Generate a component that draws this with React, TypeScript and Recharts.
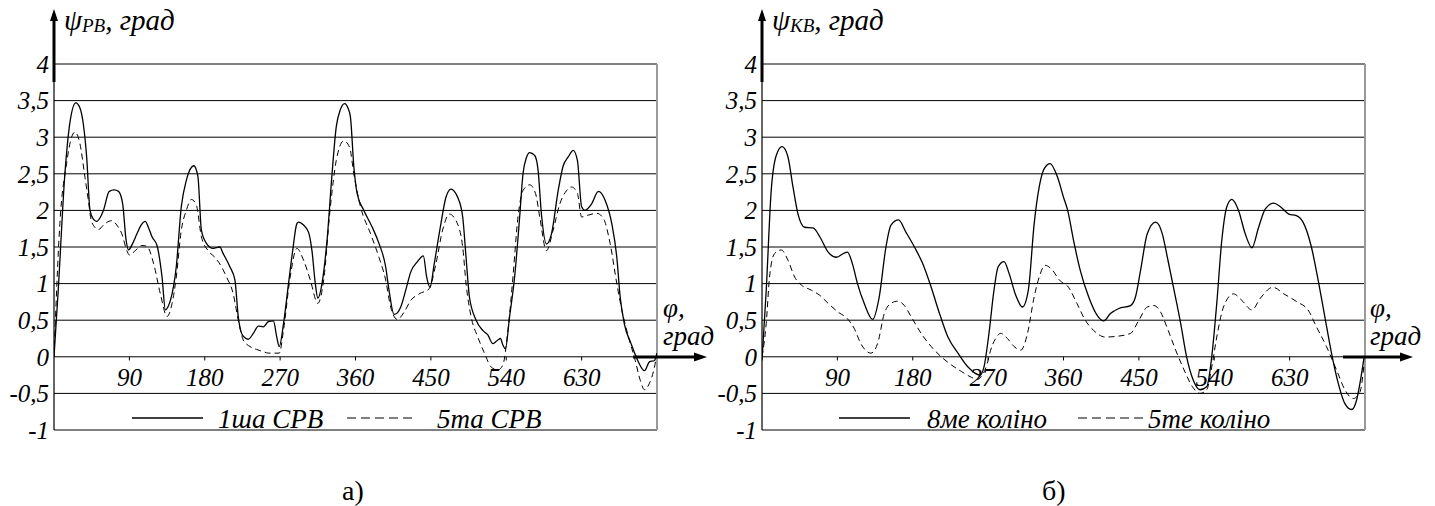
import { LineChart, Line, XAxis, YAxis, CartesianGrid, ReferenceLine, ReferenceDot } from "recharts";

const FONT = "'Liberation Serif', 'DejaVu Serif', 'Times New Roman', Times, serif";

const yTicks = [-1, -0.5, 0, 0.5, 1, 1.5, 2, 2.5, 3, 3.5, 4];
const xTicks = [90, 180, 270, 360, 450, 540, 630];

// а) 1ша СРВ
const kutSrv1 = [0, 5, 13, 19, 26, 31, 35, 39, 43, 47, 51, 55, 59, 66, 72, 77, 82, 86, 89, 94, 99, 104, 109, 113, 117, 123, 129, 133, 136, 139, 146, 152, 158, 163, 167, 170, 172, 176, 182, 190, 198, 202, 210, 216, 220, 224, 228, 232, 238, 244, 250, 256, 262, 266, 269, 274, 280, 285, 290, 292, 298, 304, 308, 312, 315, 320, 326, 332, 337, 342, 347, 351, 354, 358, 362, 370, 380, 388, 396, 400, 406, 410, 414, 420, 426, 434, 441, 445, 449, 454, 462, 468, 474, 478, 482, 488, 492, 496, 504, 512, 518, 524, 530, 533, 536, 539, 544, 550, 556, 560, 564, 568, 574, 578, 582, 588, 594, 602, 608, 614, 620, 625, 630, 634, 642, 650, 658, 666, 672, 676, 681, 689, 697, 705, 711, 717, 720];
const psiSrv1 = [0, 0.9, 2.5, 3.2, 3.47, 3.4, 3.18, 2.73, 2.0, 1.88, 1.85, 1.9, 2.0, 2.26, 2.28, 2.26, 2.09, 1.6, 1.46, 1.55, 1.68, 1.8, 1.85, 1.76, 1.64, 1.52, 1.09, 0.64, 0.68, 0.77, 1.23, 2.05, 2.41, 2.57, 2.61, 2.55, 2.45, 1.73, 1.55, 1.48, 1.5, 1.41, 1.23, 1.05, 0.55, 0.32, 0.26, 0.24, 0.32, 0.42, 0.41, 0.48, 0.49, 0.27, 0.14, 0.45, 1.0, 1.45, 1.82, 1.84, 1.8, 1.7, 1.45, 1.0, 0.8, 1.0, 1.59, 2.5, 3.14, 3.38, 3.46, 3.4, 3.27, 2.6, 2.23, 2.0, 1.77, 1.55, 1.23, 0.91, 0.58, 0.6, 0.68, 0.91, 1.16, 1.3, 1.38, 1.09, 0.95, 1.27, 1.82, 2.18, 2.29, 2.26, 2.18, 1.91, 1.36, 0.82, 0.5, 0.36, 0.3, 0.18, 0.23, 0.25, 0.16, 0.11, 0.55, 1.09, 1.91, 2.5, 2.72, 2.79, 2.75, 2.55, 1.95, 1.54, 1.68, 2.27, 2.61, 2.73, 2.82, 2.68, 2.05, 2.0, 2.09, 2.26, 2.14, 1.82, 1.36, 0.82, 0.45, 0.18, -0.05, -0.19, -0.07, -0.05, 0.05];

// а) 5та СРВ
const kutSrv5 = [0, 7, 15, 21, 25, 31, 37, 41, 45, 53, 61, 69, 75, 81, 87, 90, 97, 105, 111, 119, 127, 135, 141, 146, 152, 158, 164, 170, 176, 184, 192, 200, 206, 214, 220, 226, 234, 242, 250, 256, 262, 269, 274, 282, 290, 298, 306, 315, 322, 330, 337, 346, 353, 358, 366, 378, 388, 396, 402, 410, 418, 426, 436, 448, 456, 464, 472, 480, 488, 492, 498, 506, 514, 522, 530, 536, 542, 548, 554, 560, 568, 575, 580, 588, 596, 604, 612, 618, 625, 630, 636, 648, 656, 664, 672, 678, 686, 694, 700, 705, 711, 717, 720];
const psiSrv5 = [0, 1.82, 2.64, 3.0, 3.07, 2.91, 2.45, 2.14, 1.84, 1.74, 1.82, 1.86, 1.8, 1.68, 1.45, 1.39, 1.45, 1.52, 1.51, 1.27, 0.86, 0.55, 0.73, 1.09, 1.73, 2.0, 2.15, 2.07, 1.64, 1.45, 1.36, 1.23, 1.09, 0.86, 0.5, 0.23, 0.14, 0.1, 0.07, 0.05, 0.05, 0.05, 0.36, 1.09, 1.48, 1.32, 1.05, 0.73, 1.05, 2.05, 2.68, 2.95, 2.86, 2.5, 2.05, 1.68, 1.36, 1.05, 0.68, 0.51, 0.61, 0.77, 0.86, 0.93, 1.27, 1.73, 1.95, 1.86, 1.5, 1.0, 0.55, 0.27, 0.05, -0.14, -0.18, -0.11, 0.36, 1.09, 1.91, 2.27, 2.35, 2.23, 1.91, 1.45, 1.73, 2.09, 2.27, 2.32, 2.23, 1.91, 1.93, 1.96, 1.89, 1.55, 1.0, 0.64, 0.27, -0.05, -0.32, -0.45, -0.36, -0.14, 0.05];

// б) 8ме коліно
const kutKol8 = [0, 5, 11, 17, 24, 31, 37, 43, 51, 61, 69, 79, 89, 97, 102, 108, 114, 122, 132, 140, 148, 154, 163, 172, 182, 192, 202, 212, 222, 234, 246, 260, 265, 271, 277, 282, 289, 295, 303, 311, 318, 325, 331, 337, 344, 353, 360, 365, 372, 380, 390, 400, 408, 416, 426, 440, 446, 452, 460, 470, 478, 484, 492, 500, 507, 515, 523, 531, 537, 543, 549, 555, 561, 569, 577, 585, 593, 601, 611, 619, 629, 638, 646, 656, 664, 672, 680, 688, 696, 704, 710, 714, 719];
const psiKol8 = [-0.05, 0.9, 2.27, 2.75, 2.87, 2.73, 2.32, 1.95, 1.77, 1.76, 1.64, 1.43, 1.36, 1.41, 1.43, 1.27, 1.0, 0.73, 0.51, 0.82, 1.5, 1.8, 1.87, 1.7, 1.5, 1.27, 0.95, 0.59, 0.27, 0.05, -0.14, -0.25, -0.14, 0.32, 0.91, 1.23, 1.3, 1.14, 0.84, 0.68, 0.91, 1.82, 2.32, 2.57, 2.64, 2.45, 2.18, 2.0, 1.59, 1.18, 0.82, 0.57, 0.49, 0.59, 0.66, 0.7, 0.82, 1.18, 1.68, 1.84, 1.68, 1.36, 0.91, 0.45, 0, -0.32, -0.45, -0.41, 0, 0.73, 1.59, 2.05, 2.15, 2.0, 1.68, 1.49, 1.77, 2.02, 2.1, 2.05, 1.95, 1.93, 1.84, 1.5, 1.05, 0.55, 0.05, -0.36, -0.64, -0.72, -0.59, -0.36, 0];

// б) 5те коліно
const kutKol5 = [0, 5, 9, 15, 23, 31, 39, 47, 59, 69, 79, 91, 102, 110, 118, 130, 138, 146, 154, 162, 170, 178, 190, 202, 214, 226, 238, 250, 257, 263, 269, 273, 279, 285, 293, 301, 309, 317, 325, 331, 338, 347, 355, 366, 376, 386, 396, 410, 424, 440, 450, 460, 468, 476, 484, 494, 504, 514, 523, 531, 537, 543, 551, 563, 573, 585, 595, 610, 623, 639, 652, 662, 674, 686, 696, 706, 714, 719];
const psiKol5 = [0, 0.45, 1.09, 1.41, 1.46, 1.32, 1.09, 0.98, 0.91, 0.84, 0.73, 0.61, 0.52, 0.39, 0.18, 0.05, 0.18, 0.59, 0.73, 0.76, 0.7, 0.55, 0.32, 0.14, 0, -0.11, -0.2, -0.28, -0.31, -0.25, -0.09, 0.09, 0.25, 0.32, 0.25, 0.14, 0.09, 0.32, 0.82, 1.09, 1.25, 1.18, 1.05, 0.95, 0.73, 0.5, 0.36, 0.27, 0.28, 0.32, 0.5, 0.68, 0.7, 0.61, 0.39, 0.09, -0.18, -0.41, -0.5, -0.45, -0.14, 0.27, 0.68, 0.86, 0.77, 0.64, 0.8, 0.95, 0.86, 0.75, 0.64, 0.41, 0.14, -0.18, -0.45, -0.57, -0.48, -0.09];

function toPoints(kut: number[], psi: number[]) {
  return kut.map((phi, i) => ({ phi, psi: psi[i] }));
}

const fmt = (v: number) => String(v).replace(".", ",");

interface PanelProps {
  solid: { phi: number; psi: number }[];
  dashed: { phi: number; psi: number }[];
  left: number;
  width: number;
  yAxisWidth: number;
  marginRight: number;
}

const tickStyle = { fontSize: 25, fontStyle: "italic", fill: "#000", style: { fontFamily: FONT } };

function Panel({ solid, dashed, left, width, yAxisWidth, marginRight }: PanelProps) {
  return (
    <div style={{ position: "absolute", left, top: 0 }}>
      <LineChart
        width={width}
        height={506}
        margin={{ top: 64, right: marginRight, bottom: 76, left: 4 }}
        style={{ overflow: "visible", fontFamily: FONT }}
      >
        <CartesianGrid vertical={false} stroke="#000" strokeWidth={1} />
        <XAxis type="number" dataKey="phi" domain={[0, 720]} hide allowDataOverflow />
        <YAxis
          type="number"
          domain={[-1, 4]}
          ticks={yTicks}
          interval={0}
          width={yAxisWidth}
          tickLine={false}
          tickSize={0}
          tickMargin={5}
          axisLine={{ stroke: "#000", strokeWidth: 1.2 }}
          tickFormatter={fmt}
          tick={tickStyle}
        />
        <ReferenceLine x={720} stroke="#9a9a9a" strokeWidth={2} />
        {xTicks.map((t) => (
          <ReferenceLine key={"t" + t} segment={[{ x: t, y: 0 }, { x: t, y: -0.05 }]} stroke="#000" />
        ))}
        {xTicks.map((t) => (
          <ReferenceDot
            key={"l" + t}
            x={t}
            y={0}
            r={0}
            fill="none"
            stroke="none"
            label={{ value: t, position: "bottom", offset: 11, ...tickStyle }}
          />
        ))}
        <Line data={solid} dataKey="psi" type="monotone" stroke="#000" strokeWidth={1.3} dot={false} isAnimationActive={false} />
        <Line data={dashed} dataKey="psi" type="monotone" stroke="#000" strokeWidth={1} strokeDasharray="6 4" dot={false} isAnimationActive={false} />
      </LineChart>
    </div>
  );
}

function Decor() {
  const t = { fontStyle: "italic" as const, fill: "#000", style: { fontFamily: FONT } };
  return (
    <svg width={1435} height={506} style={{ position: "absolute", left: 0, top: 0, overflow: "visible", pointerEvents: "none", fontFamily: FONT }}>
      {/* а) */}
      <line x1={54} y1={82} x2={54} y2={18} stroke="#000" strokeWidth={3} />
      <polygon points="54,9 50,21 58,21" fill="#000" />
      <line x1={633} y1={357} x2={697} y2={357} stroke="#000" strokeWidth={3} />
      <polygon points="707,357 694,352.5 694,361.5" fill="#000" />
      <text x={64} y={30} fontSize={29} {...t}>
        ψ<tspan fontSize={19} dy={2}>РВ</tspan>
        <tspan fontSize={29} dy={-2}>, град</tspan>
      </text>
      <text x={663} y={317} fontSize={27} {...t}>φ,</text>
      <text x={663} y={345} fontSize={27} {...t}>град</text>
      <line x1={132} y1={418} x2={203} y2={418} stroke="#000" strokeWidth={1.3} />
      <text x={218} y={428} fontSize={27} {...t}>1ша СРВ</text>
      <line x1={347} y1={418} x2={417} y2={418} stroke="#000" strokeWidth={1} strokeDasharray="9 5" />
      <text x={437} y={428} fontSize={27} {...t}>5та СРВ</text>
      <text x={342} y={500} fontSize={28} fill="#000" style={{ fontFamily: FONT }}>а)</text>

      {/* б) */}
      <line x1={762} y1={82} x2={762} y2={18} stroke="#000" strokeWidth={3} />
      <polygon points="762,9 758,21 766,21" fill="#000" />
      <line x1={1343} y1={357} x2={1403} y2={357} stroke="#000" strokeWidth={3} />
      <polygon points="1413,357 1400,352.5 1400,361.5" fill="#000" />
      <text x={772} y={30} fontSize={29} {...t}>
        ψ<tspan fontSize={19} dy={2}>КВ</tspan>
        <tspan fontSize={29} dy={-2}>, град</tspan>
      </text>
      <text x={1370} y={317} fontSize={27} {...t}>φ,</text>
      <text x={1370} y={345} fontSize={27} {...t}>град</text>
      <line x1={839} y1={418} x2={910} y2={418} stroke="#000" strokeWidth={1.3} />
      <text x={927} y={428} fontSize={27} {...t}>8ме коліно</text>
      <line x1={1078} y1={418} x2={1147} y2={418} stroke="#000" strokeWidth={1} strokeDasharray="9 5" />
      <text x={1148} y={428} fontSize={27} {...t}>5те коліно</text>
      <text x={1042} y={500} fontSize={28} fill="#000" style={{ fontFamily: FONT }}>б)</text>
    </svg>
  );
}

export default function App() {
  return (
    <div style={{ position: "absolute", left: 0, top: 0, width: 1435, height: 506, background: "#fff", fontFamily: FONT }}>
      <Panel solid={toPoints(kutSrv1, psiSrv1)} dashed={toPoints(kutSrv5, psiSrv5)} left={0} width={720} yAxisWidth={50} marginRight={63} />
      <Panel solid={toPoints(kutKol8, psiKol8)} dashed={toPoints(kutKol5, psiKol5)} left={700} width={735} yAxisWidth={58} marginRight={70} />
      <Decor />
    </div>
  );
}
